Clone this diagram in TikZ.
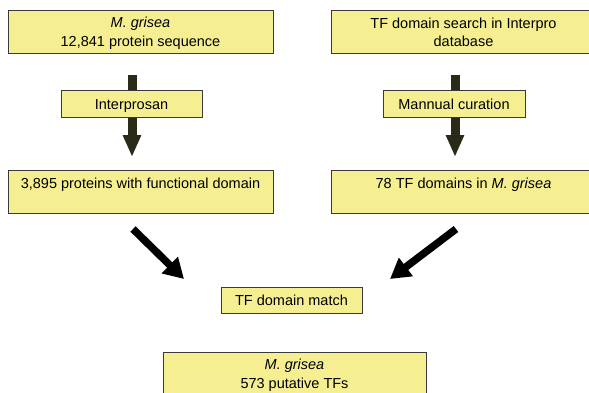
\documentclass[tikz,border=0pt]{standalone}
\usepackage{fontspec}
\setmainfont{Liberation Sans}
\usetikzlibrary{arrows.meta}
\definecolor{boxfill}{HTML}{F6EF92}
\definecolor{boxline}{HTML}{3A3A3A}
\definecolor{vdark}{HTML}{2A2A18}
\newcommand\bxs{\rule[-2.5pt]{0pt}{16.5pt}}
\begin{document}
\begin{tikzpicture}[x=1pt,y=-1pt,
  box/.style={draw=boxline,line width=1pt,fill=boxfill,inner sep=0pt,
    minimum width=265pt,minimum height=43pt,align=center,
    font=\fontsize{14.5}{18.5}\selectfont},
  lbl/.style={box,minimum width=141pt,minimum height=27pt},
  varrow/.style={vdark,line width=9pt,-{Triangle[width=17pt,length=22pt]}},
  darrow/.style={black,line width=7.5pt,-{Triangle[width=22pt,length=20pt]}}]
\useasboundingbox (0,0) rectangle (589,392);
\begin{scope}
\clip (0,0) rectangle (589,392);
\node[box] (b1) at (140.5,31.5) {\bxs\textit{M. grisea}\\\bxs 12,841 protein sequence};
\node[box] (b2) at (463.5,31.5) {\bxs TF domain search in Interpro\\\bxs database};
\coordinate (a1s) at (132,75);
\coordinate (a1e) at (132,157);
\coordinate (a2s) at (455,75);
\coordinate (a2e) at (455,157);
\draw[varrow] (a1s) -- (a1e);
\draw[varrow] (a2s) -- (a2e);
\node[lbl] (l1) at (131.5,103.5) {\bxs Interprosan};
\node[lbl,minimum width=142pt] (l2) at (454,103.5) {\bxs Mannual curation};
\node[box] (b3) at (140.5,191.5) {\bxs 3,895 proteins with functional domain\\\bxs};
\node[box] (b4) at (463.5,191.5) {\bxs 78 TF domains in \textit{M. grisea}\\\bxs};
\coordinate (d1s) at (133,229);
\coordinate (d1e) at (184,279);
\coordinate (d2s) at (456,229);
\coordinate (d2e) at (390,279);
\draw[darrow] (d1s) -- (d1e);
\draw[darrow] (d2s) -- (d2e);
\node[lbl,minimum height=26pt] (m) at (291.5,300) {\bxs TF domain match};
\node[box,minimum width=263pt] (f) at (294.5,373.5) {\bxs\textit{M. grisea}\\\bxs 573 putative TFs};
\end{scope}
\end{tikzpicture}
\end{document}
